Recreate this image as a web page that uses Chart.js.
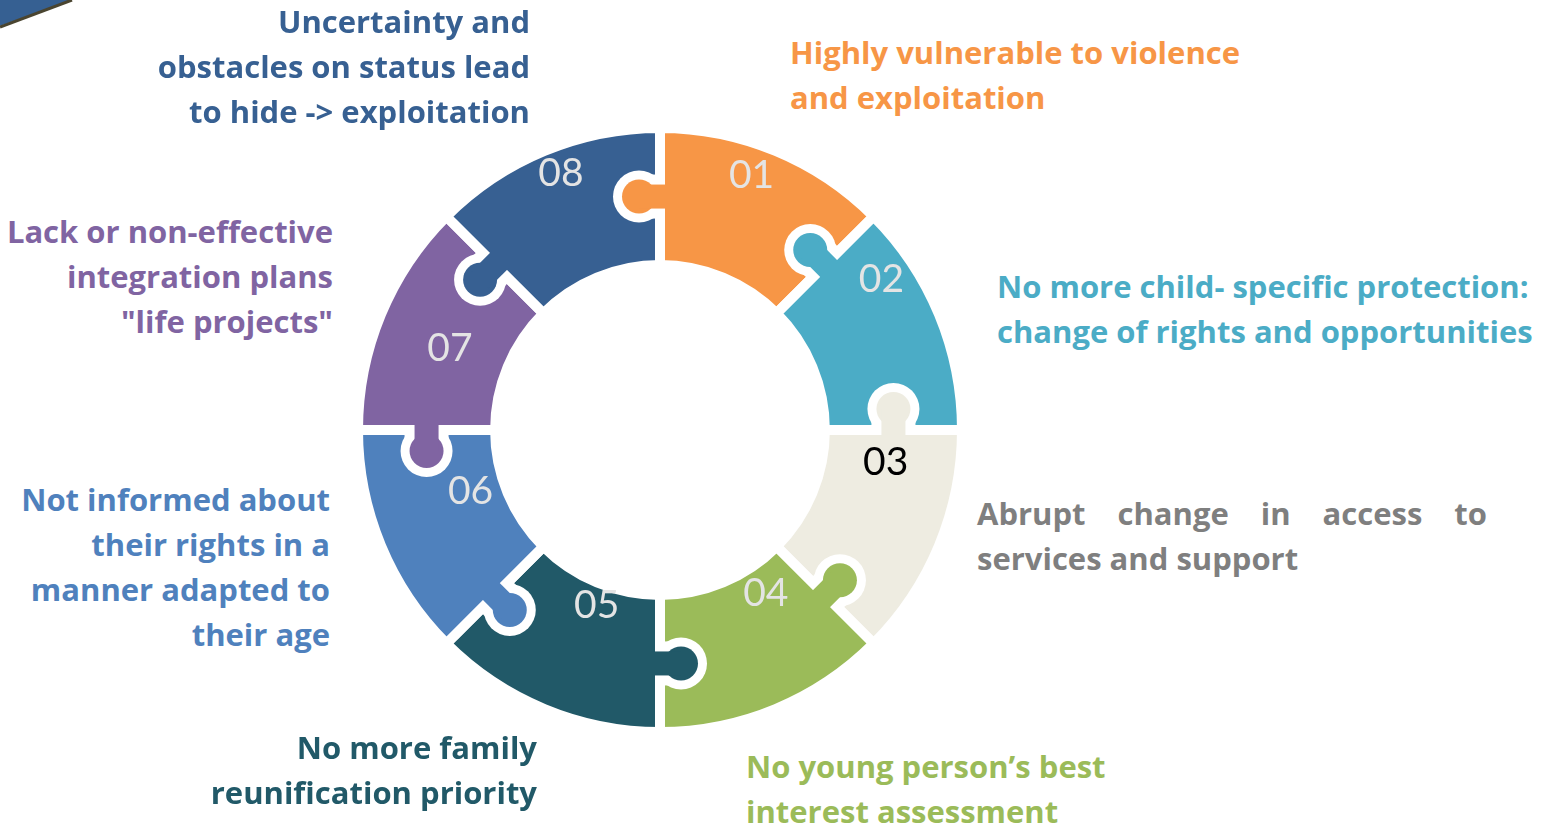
<!DOCTYPE html>
<html>
<head>
<meta charset="utf-8">
<script src="https://cdn.jsdelivr.net/npm/chart.js@4"></script>
<style>
  html, body { margin: 0; padding: 0; background: #fff; }
  body { width: 1546px; height: 827px; position: relative; overflow: hidden; font-family: "Open Sans", sans-serif; }
  #wrap { position: absolute; left: 353px; top: 123px; width: 614px; height: 614px; }
  .cap { position: absolute; font-weight: 700; font-size: 31px; line-height: 45px; white-space: nowrap; }
  .r { text-align: right; }
</style>
</head>
<body>
<svg width="80" height="34" style="position:absolute;left:0;top:0">
  <polygon points="0,0 72,0 0,26" fill="#366092"></polygon>
  <line x1="0" y1="27" x2="72" y2="0" stroke="#4a4530" stroke-width="3"></line>
</svg>
<div id="wrap"><canvas id="chart" width="614" height="614"></canvas></div>
<div id="captions"></div>
<script>
// pieces of the ring, clockwise from the top
const categories = ["01", "02", "03", "04", "05", "06", "07", "08"]
const values = [1, 1, 1, 1, 1, 1, 1, 1]
const colors = ["#F79646", "#4BACC6", "#EEECE1", "#9BBB59", "#215968", "#4F81BD", "#8064A2", "#376092"]
const numberColors = ["#E4E4E4", "#E4E4E4", "#000000", "#E4E4E4", "#E4E4E4", "#E4E4E4", "#E4E4E4", "#E4E4E4"]
const captions = [
  ["Highly vulnerable to violence", "and exploitation"],
  ["No more child- specific protection:", "change of rights and opportunities"],
  ["Abrupt change in access to", "services and support"],
  ["No young person\u2019s best", "interest assessment"],
  ["No more family", "reunification priority"],
  ["Not informed about", "their rights in a", "manner adapted to", "their age"],
  ["Lack or non-effective", "integration plans", "\"life projects\""],
  ["Uncertainty and", "obstacles on status lead", "to hide -> exploitation"]
]
const captionColors = ["#F79646", "#4BACC6", "#7F7F7F", "#9BBB59", "#215968", "#4F81BD", "#8064A2", "#376092"]

// caption boxes (layout only)
const captionBoxes = [
  { left: 790, top: 30 },
  { left: 997, top: 264 },
  { left: 977, top: 491, justify: 510 },
  { left: 746, top: 744 },
  { right: 537, top: 725 },
  { right: 330, top: 477 },
  { right: 333, top: 209 },
  { right: 530, top: -1 }
]

const capHolder = document.getElementById("captions")
captions.forEach((lines, i) => {
  const box = captionBoxes[i]
  const div = document.createElement("div")
  div.className = "cap" + (box.right !== undefined ? " r" : "")
  div.style.color = captionColors[i]
  div.style.top = box.top + "px"
  if (box.right !== undefined) div.style.right = (1546 - box.right) + "px"
  else div.style.left = box.left + "px"
  lines.forEach((line, j) => {
    const l = document.createElement("div")
    l.textContent = line
    if (box.justify && j === 0) {
      l.style.width = box.justify + "px"
      l.style.textAlign = "justify"
      l.style.textAlignLast = "justify"
      l.style.whiteSpace = "normal"
    }
    div.appendChild(l)
  })
  capHolder.appendChild(div)
})

// where the number sits inside each piece: fraction of the angle, fraction of the ring width
const numberSpots = [[0.44, 0.77], [0.24, 0.75], [0.18, 0.46], [0.27, 0.22], [0.44, 0.16], [0.60, 0.25], [0.47, 0.44], [0.53, 0.80]]

const puzzlePlugin = {
  id: "puzzle",
  afterDatasetsDraw(chart) {
    const ctx = chart.ctx
    const arcs = chart.getDatasetMeta(0).data
    arcs.forEach((arc, i) => {
      const { x, y, startAngle, innerRadius, outerRadius } = arc.getProps(["x", "y", "startAngle", "innerRadius", "outerRadius"])
      const a = startAngle
      const rm = (innerRadius + outerRadius) / 2
      const d = 21
      const bx = x + rm * Math.cos(a)
      const by = y + rm * Math.sin(a)
      // knob goes into the previous piece
      const px = Math.sin(a), py = -Math.cos(a)
      const cx = bx + d * px, cy = by + d * py

      ctx.save()
      // clip to the previous piece side of the seam
      ctx.beginPath()
      ctx.moveTo(x, y)
      ctx.lineTo(x + 1000 * Math.cos(a), y + 1000 * Math.sin(a))
      ctx.lineTo(x + 1000 * Math.cos(a) + 1000 * px, y + 1000 * Math.sin(a) + 1000 * py)
      ctx.lineTo(x + 1000 * px, y + 1000 * py)
      ctx.closePath()
      ctx.clip()
      ctx.fillStyle = "#ffffff"
      ctx.beginPath()
      ctx.arc(cx, cy, 26, 0, Math.PI * 2)
      ctx.fill()
      ctx.translate(bx, by)
      ctx.rotate(a)
      ctx.fillRect(-22, -d, 44, d + 2)
      ctx.restore()

      ctx.save()
      ctx.fillStyle = colors[i]
      ctx.beginPath()
      ctx.arc(cx, cy, 17, 0, Math.PI * 2)
      ctx.fill()
      // neck across the white seam
      ctx.translate(bx, by)
      ctx.rotate(a)
      ctx.fillRect(-12, -d, 24, d + 7)
      ctx.restore()
    })

    arcs.forEach((arc, i) => {
      const { x, y, startAngle, endAngle, innerRadius, outerRadius } = arc.getProps(["x", "y", "startAngle", "endAngle", "innerRadius", "outerRadius"])
      const [fa, fr] = numberSpots[i]
      const ang = startAngle + (endAngle - startAngle) * fa
      const r = innerRadius + (outerRadius - innerRadius) * fr
      ctx.save()
      ctx.font = '39px "Lato", "Open Sans", sans-serif'
      ctx.fillStyle = numberColors[i]
      ctx.textAlign = "center"
      ctx.textBaseline = "middle"
      ctx.fillText(categories[i], x + r * Math.cos(ang), y + r * Math.sin(ang))
      ctx.restore()
    })
  }
}

const ctx = document.getElementById("chart").getContext("2d")
new Chart(ctx, {
  type: "doughnut",
  data: {
    labels: categories,
    datasets: [{
      data: values,
      backgroundColor: colors,
      borderColor: "#ffffff",
      borderWidth: 10,
      hoverOffset: 0
    }]
  },
  options: {
    responsive: false,
    animation: false,
    cutout: "54.6%",
    layout: { padding: 0 },
    plugins: {
      legend: { display: false },
      tooltip: { enabled: false }
    }
  },
  plugins: [puzzlePlugin]
})
</script>
</body>
</html>
